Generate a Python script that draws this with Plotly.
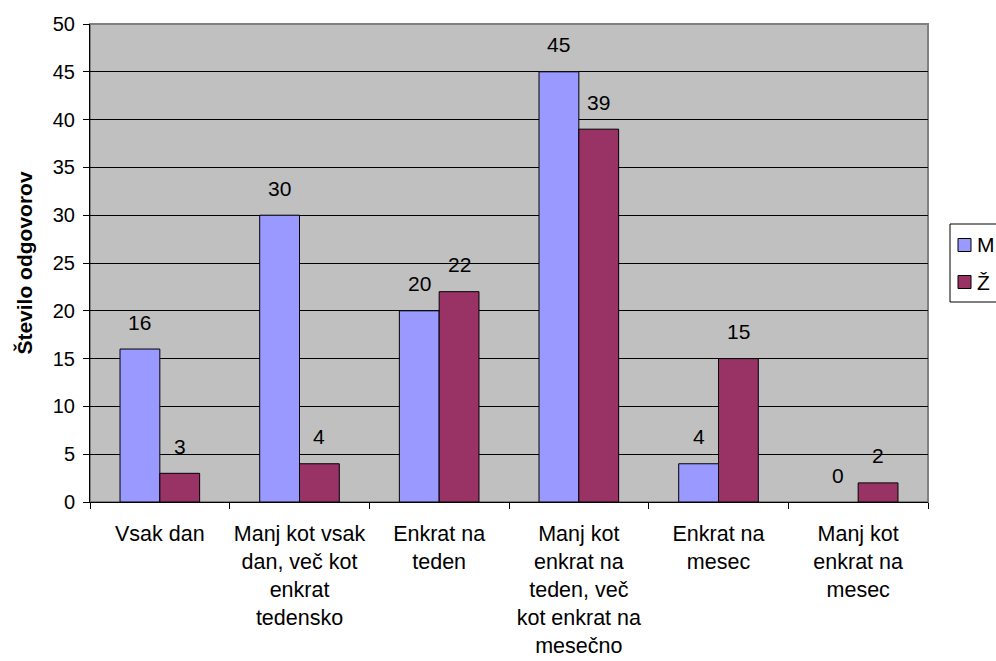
import plotly.graph_objects as go

# Survey answers: how often respondents do the activity, split by sex
categories = [
    "Vsak dan",
    "Manj kot vsak<br>dan, več kot<br>enkrat<br>tedensko",
    "Enkrat na<br>teden",
    "Manj kot<br>enkrat na<br>teden, več<br>kot enkrat na<br>mesečno",
    "Enkrat na<br>mesec",
    "Manj kot<br>enkrat na<br>mesec",
]
series_names = ["M", "Ž"]
values_m = [16, 30, 20, 45, 4, 0]
values_z = [3, 4, 22, 39, 15, 2]
y_ticks = list(range(0, 51, 5))

colors = ["#9999FF", "#993366"]
FONT = "Liberation Sans, Arial, sans-serif"

W, H = 996, 661
ML, MR, MT, MB = 90, 68, 24, 159
plot_w = W - ML - MR
plot_h = H - MT - MB
BARGAP = 0.43

fig = go.Figure()
for name, vals, col in zip(series_names, [values_m, values_z], colors):
    fig.add_trace(go.Bar(
        name=name, x=categories, y=vals,
        marker=dict(color=col,
                    line=dict(color="black", width=[1 if v else 0 for v in vals])),
        showlegend=False, hoverinfo="x+y+name",
    ))

# value labels above each bar, offset to the bar's slot in its group
slot_px = plot_w / len(categories) * (1 - BARGAP) / 2
for i, vals in enumerate([values_m, values_z]):
    shift = (i - 0.5) * slot_px
    for cat, v in zip(categories, vals):
        fig.add_annotation(
            x=cat, y=v, xref="x", yref="y", text=str(v), showarrow=False,
            xshift=shift, yshift=27, yanchor="middle",
            font=dict(family=FONT, size=21, color="black"),
        )

# plot-area frame (grey on top and right)
fig.add_shape(type="rect", xref="paper", yref="paper", x0=0, x1=1, y0=0, y1=1,
              line=dict(color="#808080", width=2), layer="below")


def px_x(x):
    return (x - ML) / plot_w


def px_y(y):
    return (H - MB - y) / plot_h


# legend box
fig.add_shape(type="rect", xref="paper", yref="paper",
              x0=px_x(950), x1=px_x(1010), y0=px_y(302), y1=px_y(224),
              line=dict(color="black", width=1), fillcolor="white")
for k, (name, col) in enumerate(zip(series_names, colors)):
    cy = 245 + k * 37
    fig.add_shape(type="rect", xref="paper", yref="paper",
                  x0=px_x(958), x1=px_x(971), y0=px_y(cy + 6.5), y1=px_y(cy - 6.5),
                  line=dict(color="black", width=1), fillcolor=col)
    fig.add_annotation(x=px_x(975), y=px_y(cy), xref="paper", yref="paper",
                       text=name, showarrow=False, xanchor="left", yanchor="middle",
                       font=dict(family=FONT, size=21, color="black"))

fig.update_layout(
    width=W, height=H,
    margin=dict(l=ML, r=MR, t=MT, b=MB, autoexpand=False),
    paper_bgcolor="white", plot_bgcolor="#C0C0C0",
    barmode="group", bargap=BARGAP, bargroupgap=0,
    font=dict(family=FONT, size=20, color="black"),
    showlegend=False,
)
fig.update_xaxes(
    type="category", tickson="boundaries", ticks="outside", ticklen=6,
    tickcolor="black", showline=True, linecolor="black", linewidth=1,
    showgrid=False, ticklabelstandoff=12, tickfont=dict(size=21.5),
    tickangle=0,
)
fig.update_yaxes(
    range=[0, 50], tickvals=y_ticks, ticks="outside", ticklen=6,
    tickcolor="black", showline=True, linecolor="black", linewidth=1,
    showgrid=True, gridcolor="black", gridwidth=1, zeroline=False,
    tickfont=dict(size=20), ticklabelstandoff=4,
    title=dict(text="<b>Število odgovorov</b>", standoff=14,
               font=dict(size=21)),
)

fig.write_html("out.html")
